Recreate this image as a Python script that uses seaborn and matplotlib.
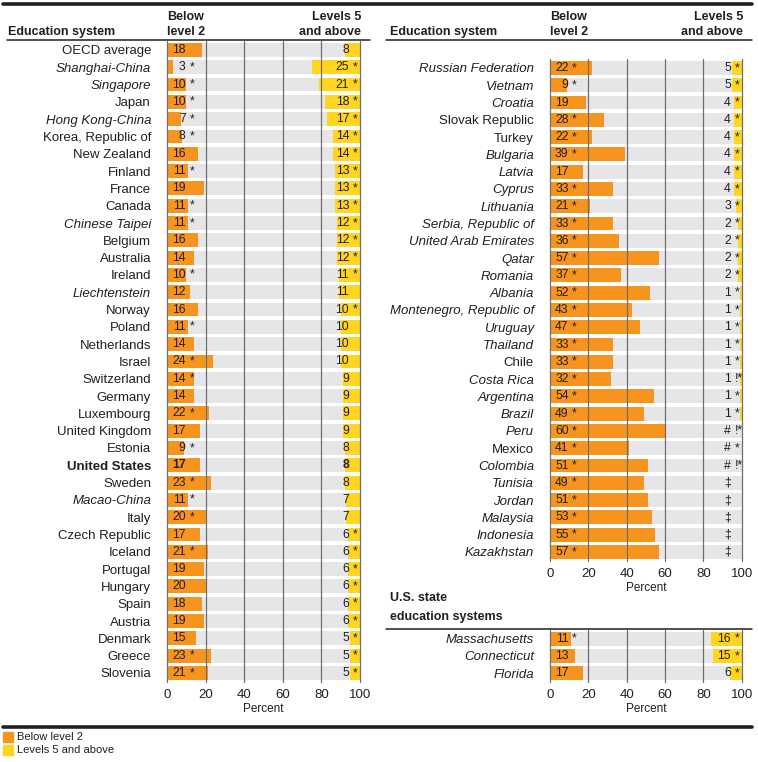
import numpy as np
import pandas as pd
import matplotlib.pyplot as plt
from matplotlib.lines import Line2D
from matplotlib.patches import Rectangle
import seaborn as sns

sns.set_style('white')
plt.rcParams['font.family'] = ['Liberation Sans', 'DejaVu Sans']

ORANGE = '#f7941d'
YELLOW = '#ffd520'
GRAY_BAR = '#e6e6e8'
GRID = '#6e6e6e'
TEXT = '#231f20'

# left column of education systems
left_names = ['OECD average', 'Shanghai-China', 'Singapore', 'Japan', 'Hong Kong-China',
              'Korea, Republic of', 'New Zealand', 'Finland', 'France', 'Canada',
              'Chinese Taipei', 'Belgium', 'Australia', 'Ireland', 'Liechtenstein',
              'Norway', 'Poland', 'Netherlands', 'Israel', 'Switzerland', 'Germany',
              'Luxembourg', 'United Kingdom', 'Estonia', 'United States', 'Sweden',
              'Macao-China', 'Italy', 'Czech Republic', 'Iceland', 'Portugal', 'Hungary',
              'Spain', 'Austria', 'Denmark', 'Greece', 'Slovenia']
left_below = [18, 3, 10, 10, 7, 8, 16, 11, 19, 11, 11, 16, 14, 10, 12, 16, 11, 14, 24, 14, 14,
              22, 17, 9, 17, 23, 11, 20, 17, 21, 19, 20, 18, 19, 15, 23, 21]
left_below_flag = ['', '*', '*', '*', '*', '*', '', '*', '', '*', '*', '', '', '*', '', '', '*', '',
                   '*', '*', '', '*', '', '*', '', '*', '*', '*', '', '*', '', '', '', '', '', '*', '*']
left_top = ['8', '25', '21', '18', '17', '14', '14', '13', '13', '13', '12', '12', '12', '11', '11',
            '10', '10', '10', '10', '9', '9', '9', '9', '8', '8', '8', '7', '7', '6', '6', '6', '6',
            '6', '6', '5', '5', '5']
left_top_flag = ['', '*', '*', '*', '*', '*', '*', '*', '*', '*', '*', '*', '*', '*', '', '*', '', '',
                 '', '', '', '', '', '', '', '', '', '', '*', '*', '*', '*', '*', '*', '*', '*', '*']
left_italic = ['Shanghai-China', 'Singapore', 'Hong Kong-China', 'Chinese Taipei',
               'Liechtenstein', 'Macao-China']

# right column of education systems
right_names = ['Russian Federation', 'Vietnam', 'Croatia', 'Slovak Republic', 'Turkey', 'Bulgaria',
               'Latvia', 'Cyprus', 'Lithuania', 'Serbia, Republic of', 'United Arab Emirates',
               'Qatar', 'Romania', 'Albania', 'Montenegro, Republic of', 'Uruguay', 'Thailand',
               'Chile', 'Costa Rica', 'Argentina', 'Brazil', 'Peru', 'Mexico', 'Colombia',
               'Tunisia', 'Jordan', 'Malaysia', 'Indonesia', 'Kazakhstan']
right_below = [22, 9, 19, 28, 22, 39, 17, 33, 21, 33, 36, 57, 37, 52, 43, 47, 33, 33, 32, 54, 49,
               60, 41, 51, 49, 51, 53, 55, 57]
right_below_flag = ['*', '*', '', '*', '*', '*', '', '*', '*', '*', '*', '*', '*', '*', '*', '*',
                    '*', '*', '*', '*', '*', '*', '*', '*', '*', '*', '*', '*', '*']
right_top = ['5', '5', '4', '4', '4', '4', '4', '4', '3', '2', '2', '2', '2', '1', '1', '1', '1',
             '1', '1', '1', '1', '#', '#', '#', '‡', '‡', '‡', '‡', '‡']
right_top_flag = ['*', '*', '*', '*', '*', '*', '*', '*', '*', '*', '*', '*', '*', '*', '*', '*',
                  '*', '*', '!*', '*', '*', '!*', '*', '!*', '', '', '', '', '']
right_upright = ['Slovak Republic', 'Turkey', 'Chile', 'Mexico']

# U.S. state education systems
state_names = ['Massachusetts', 'Connecticut', 'Florida']
state_below = [11, 13, 17]
state_below_flag = ['*', '', '']
state_top = ['16', '15', '6']
state_top_flag = ['*', '*', '*']

W, H = 758, 762


def fx(px):
    return px / W


def fy(py):
    return 1 - py / H


def draw_panel(ax, names, below, below_flag, top, top_flag, italic, bold=()):
    n = len(names)
    top_num = pd.to_numeric(pd.Series(top), errors='coerce').fillna(0)
    df = pd.DataFrame({'system': names, 'below': below, 'top': top_num, 'full': 100})
    sns.barplot(data=df, x='full', y='system', color=GRAY_BAR, saturation=1, width=0.8,
                errorbar=None, linewidth=0, ax=ax)
    sns.barplot(data=df, x='below', y='system', color=ORANGE, saturation=1, width=0.8,
                errorbar=None, linewidth=0, ax=ax)
    ax.barh(np.arange(n), df['top'], left=100 - df['top'], height=0.8, color=YELLOW, linewidth=0)
    for g in range(0, 101, 20):
        ax.axvline(g, color=GRID, lw=0.9, zorder=5, clip_on=False)
    for i in range(n):
        w = 'bold' if names[i] in bold else 'normal'
        kw = dict(va='center', fontsize=8.8, color=TEXT, zorder=6, fontweight=w)
        ax.text(9.7, i, str(below[i]), ha='right', **kw)
        if below_flag[i]:
            ax.text(11.6, i, below_flag[i], ha='left', **kw)
        ax.text(94.4, i, top[i], ha='right', **kw)
        if top_flag[i]:
            ax.text(96.3, i, top_flag[i], ha='left', **kw)
    ax.set_xlim(0, 100)
    ax.set_ylim(n - 0.5, -0.5)
    ax.set_xticks(range(0, 101, 20))
    ax.tick_params(axis='x', length=0, pad=5, labelsize=9.5, colors=TEXT)
    ax.tick_params(axis='y', length=0, pad=11.5, labelsize=9.5, colors=TEXT)
    ax.set_ylabel('')
    ax.set_xlabel('Percent', fontsize=8.5, labelpad=2, color=TEXT)
    for lbl in ax.get_yticklabels():
        if lbl.get_text() in italic:
            lbl.set_fontstyle('italic')
        if lbl.get_text() in bold:
            lbl.set_fontweight('bold')
    sns.despine(ax=ax, left=True, bottom=True)


fig = plt.figure(figsize=(W / 100, H / 100), dpi=100)

ax_l = fig.add_axes([fx(167), fy(681.6), fx(193), 640.3 / H])
draw_panel(ax_l, left_names, left_below, left_below_flag, left_top, left_top_flag,
           left_italic, bold=('United States',))

ax_r = fig.add_axes([fx(550), fy(560.6), fx(191.7), 501.3 / H])
right_italic = [c for c in right_names if c not in right_upright]
draw_panel(ax_r, right_names, right_below, right_below_flag, right_top, right_top_flag,
           right_italic)

ax_s = fig.add_axes([fx(550), fy(681.6), fx(191.7), 51.2 / H])
draw_panel(ax_s, state_names, state_below, state_below_flag, state_top, state_top_flag,
           state_names)

# headers
hkw = dict(fontsize=9, fontweight='bold', color=TEXT, va='center')
for x0, x1 in [(8, 167), (390, 550)]:
    fig.text(fx(x0), fy(32), 'Education system', ha='left', **hkw)
    fig.text(fx(x1), fy(17), 'Below', ha='left', **hkw)
    fig.text(fx(x1), fy(32), 'level 2', ha='left', **hkw)
for xr in [361, 743]:
    fig.text(fx(xr), fy(17), 'Levels 5', ha='right', **hkw)
    fig.text(fx(xr), fy(32), 'and above', ha='right', **hkw)
fig.text(fx(390), fy(598), 'U.S. state', ha='left', **hkw)
fig.text(fx(390), fy(617), 'education systems', ha='left', **hkw)

# rules
fig.add_artist(Line2D([fx(3), fx(752)], [fy(4), fy(4)], color=TEXT, lw=2.6))
fig.add_artist(Line2D([fx(3), fx(752)], [fy(727), fy(727)], color=TEXT, lw=2.6))
fig.add_artist(Line2D([fx(7), fx(370)], [fy(40), fy(40)], color=TEXT, lw=1.1))
fig.add_artist(Line2D([fx(386), fx(752)], [fy(40), fy(40)], color=TEXT, lw=1.1))
fig.add_artist(Line2D([fx(386), fx(752)], [fy(629), fy(629)], color=TEXT, lw=1.1))

# legend
for py, col, lab in [(737, ORANGE, 'Below level 2'), (750, YELLOW, 'Levels 5 and above')]:
    fig.add_artist(Rectangle((fx(3), fy(py + 5)), fx(10), 10 / H, color=col,
                             transform=fig.transFigure))
    fig.text(fx(17), fy(py), lab, fontsize=8, color=TEXT, va='center', ha='left')

fig.savefig('out.png', dpi=100)
